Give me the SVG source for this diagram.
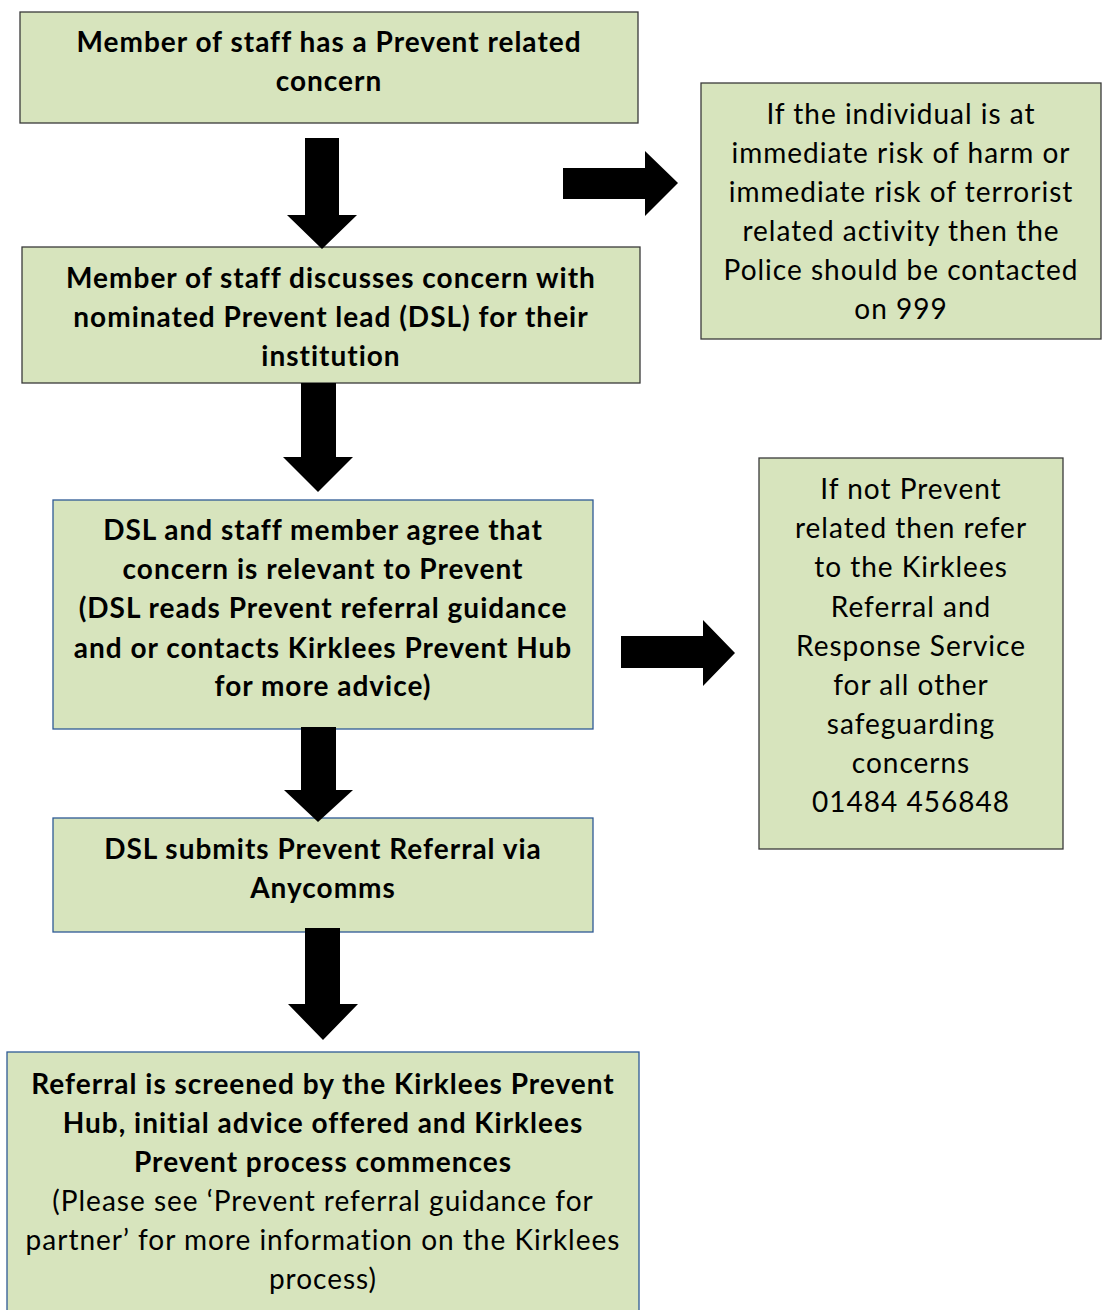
<svg xmlns="http://www.w3.org/2000/svg" width="1105" height="1310" viewBox="0 0 1105 1310">
<style>
.box{fill:#D7E4BD;stroke-width:1.3}
.dk{stroke:#3a3a3a}
.bl{stroke:#2E5A95}
text{font-family:"Lato","Liberation Sans",sans-serif;font-size:28px;letter-spacing:1px;fill:#000;text-anchor:middle}
.b{font-weight:bold}
.arrow{fill:#000}
</style>
<rect width="1105" height="1310" fill="#fff"/>
<g id="n1">
<rect class="box dk" x="20" y="12" width="618" height="111"/>
<text class="b" x="329" y="52">Member of staff has a Prevent related</text>
<text class="b" x="329" y="91">concern</text>
</g>
<g id="n2">
<rect class="box dk" x="22" y="247" width="618" height="136"/>
<text class="b" x="331" y="288">Member of staff discusses concern with</text>
<text class="b" x="331" y="327">nominated Prevent lead (DSL) for their</text>
<text class="b" x="331" y="366">institution</text>
</g>
<g id="n3">
<rect class="box bl" x="53" y="500" width="540" height="229"/>
<text class="b" x="323" y="540">DSL and staff member agree that</text>
<text class="b" x="323" y="579">concern is relevant to Prevent</text>
<text class="b" x="323" y="618">(DSL reads Prevent referral guidance</text>
<text class="b" x="323" y="658">and or contacts Kirklees Prevent Hub</text>
<text class="b" x="323" y="696">for more advice)</text>
</g>
<g id="n4">
<rect class="box bl" x="53" y="818" width="540" height="114"/>
<text class="b" x="323" y="859">DSL submits Prevent Referral via</text>
<text class="b" x="323" y="898">Anycomms</text>
</g>
<g id="n5">
<rect class="box bl" x="7" y="1052" width="632" height="270"/>
<text class="b" x="323" y="1094">Referral is screened by the Kirklees Prevent</text>
<text class="b" x="323" y="1133">Hub, initial advice offered and Kirklees</text>
<text class="b" x="323" y="1172">Prevent process commences</text>
<text x="323" y="1211">(Please see ‘Prevent referral guidance for</text>
<text x="323" y="1250">partner’ for more information on the Kirklees</text>
<text x="323" y="1289">process)</text>
</g>
<g id="n6">
<rect class="box dk" x="701" y="83" width="400" height="256"/>
<text x="901" y="124">If the individual is at</text>
<text x="901" y="163">immediate risk of harm or</text>
<text x="901" y="202">immediate risk of terrorist</text>
<text x="901" y="241">related activity then the</text>
<text x="901" y="280">Police should be contacted</text>
<text x="901" y="319">on 999</text>
</g>
<g id="n7">
<rect class="box dk" x="759" y="458" width="304" height="391"/>
<text x="911" y="499">If not Prevent</text>
<text x="911" y="538">related then refer</text>
<text x="911" y="577">to the Kirklees</text>
<text x="911" y="617">Referral and</text>
<text x="911" y="656">Response Service</text>
<text x="911" y="695">for all other</text>
<text x="911" y="734">safeguarding</text>
<text x="911" y="773">concerns</text>
<text x="911" y="812">01484 456848</text>
</g>
<g id="connectors">
<polygon class="arrow" points="305,138 339,138 339,215 357,215 322,249 287,215 305,215"/>
<polygon class="arrow" points="563,168 645,168 645,151 678,183 645,216 645,199 563,199"/>
<polygon class="arrow" points="301,383 336,383 336,457 353,457 318,492 283,457 301,457"/>
<polygon class="arrow" points="621,636 703,636 703,620 735,653 703,686 703,668 621,668"/>
<polygon class="arrow" points="301,727 336,727 336,790 353,790 318,822 284,790 301,790"/>
<polygon class="arrow" points="305,928 340,928 340,1004 358,1004 323,1040 288,1004 305,1004"/>
</g>
</svg>
